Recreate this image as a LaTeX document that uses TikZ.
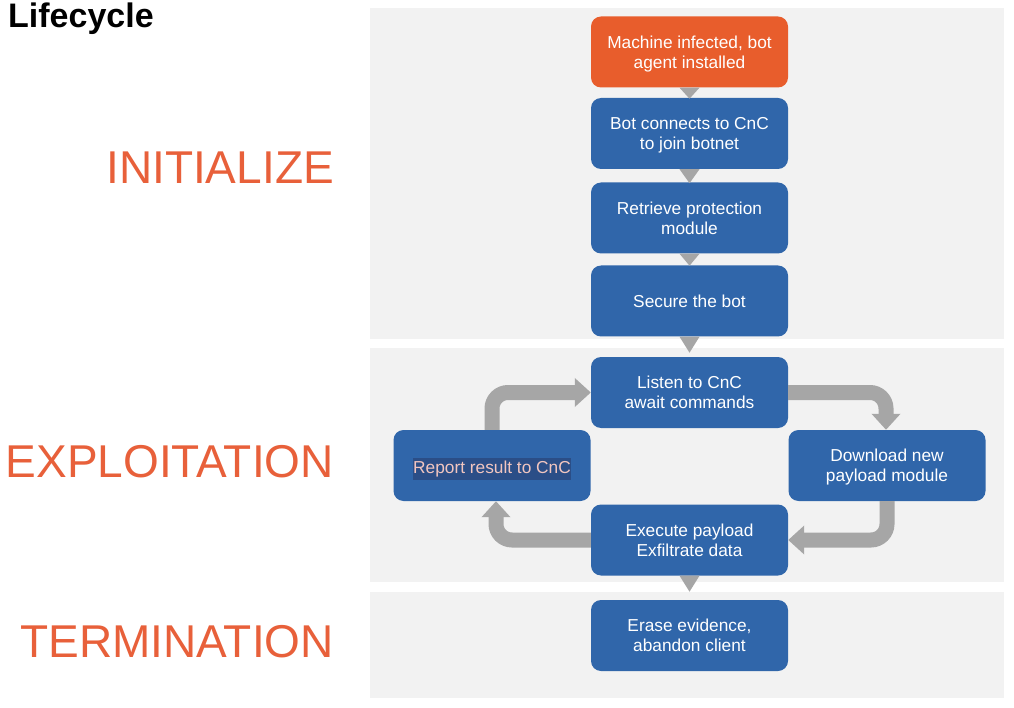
\documentclass[tikz,border=0pt]{standalone}
\usepackage{fontspec}
\setmainfont{Liberation Sans}
\usetikzlibrary{arrows.meta,calc}
\definecolor{panelgray}{HTML}{F2F2F2}
\definecolor{boxblue}{HTML}{3066AA}
\definecolor{boxorange}{HTML}{E85D2C}
\definecolor{txtorange}{HTML}{E8603A}
\definecolor{arrowgray}{HTML}{A6A6A6}
\definecolor{hlblue}{HTML}{2B4E87}
\definecolor{hlpink}{HTML}{F2C6C0}
\begin{document}
\begin{tikzpicture}[x=1pt,y=-1pt,
  panel/.style={fill=panelgray,draw=none},
  box/.style={fill=boxblue,draw=none,rounded corners=10pt,minimum width=197pt,minimum height=71pt,
    text=white,align=center,inner sep=0pt,text depth=0pt,font=\fontsize{17.3}{20}\selectfont},
  phase/.style={anchor=base east,text=txtorange,font=\fontsize{46}{52}\selectfont,inner sep=0pt},
  tri/.style={fill=arrowgray,draw=none},
  loop/.style={draw=arrowgray,line width=15pt,rounded corners=16pt,
    -{Triangle[width=28pt,length=16pt]}}
]
\useasboundingbox (0,0) rectangle (1014,708);
\fill[white] (0,0) rectangle (1014,708);
% panels
\fill[panel] (370,8) rectangle (1004,339);
\fill[panel] (370,348) rectangle (1004,582);
\fill[panel] (370,592) rectangle (1004,698);
% title and phases
\node[anchor=base west,inner sep=0pt,font=\fontsize{34}{40}\selectfont\bfseries] (title) at (8,28) {Lifecycle};
\node[phase] (init) at (334,184) {INITIALIZE};
\node[phase] (expl) at (334,477) {EXPLOITATION};
\node[phase] (term) at (334,657) {TERMINATION};
% boxes
\node[box,fill=boxorange] (m1) at (689.5,52) {Machine infected, bot\\agent installed};
\node[box] (m2) at (689.5,133.5) {Bot connects to CnC\\to join botnet};
\node[box] (m3) at (689.5,218) {Retrieve protection\\module};
\node[box] (m4) at (689.5,301) {Secure the bot};
\node[box] (listen) at (689.5,392.5) {Listen to CnC\\await commands};
\node[box] (report) at (492,465.5) {\colorbox{hlblue}{\hspace{-3pt}\textcolor{hlpink}{Report result to CnC}\hspace{-3pt}}};
\node[box] (down) at (887,465.5) {Download new\\payload module};
\node[box] (exec) at (689.5,540) {Execute payload\\Exfiltrate data};
\node[box] (erase) at (689.5,635.5) {Erase evidence,\\abandon client};
% triangles
\fill[tri] ($(m1.south)+(-10,0)$) -- ($(m1.south)+(10,0)$) -- ($(m1.south)+(0,11)$) -- cycle;
\fill[tri] ($(m2.south)+(-10,0)$) -- ($(m2.south)+(10,0)$) -- ($(m2.south)+(0,14)$) -- cycle;
\fill[tri] ($(m3.south)+(-10,0)$) -- ($(m3.south)+(10,0)$) -- ($(m3.south)+(0,12)$) -- cycle;
\fill[tri] ($(m4.south)+(-10,0)$) -- ($(m4.south)+(10,0)$) -- ($(m4.south)+(0,16)$) -- cycle;
\fill[tri] ($(exec.south)+(-10,0)$) -- ($(exec.south)+(10,0)$) -- ($(exec.south)+(0,16)$) -- cycle;
% loop arrows
\draw[loop] (report.north) |- (listen.west);
\draw[loop] (listen.east) -| ($(down.north)+(-1,0)$);
\draw[loop] (down.south) |- (exec.east);
\draw[loop] (exec.west) -| ($(report.south)+(4,0)$);
\end{tikzpicture}
\end{document}
